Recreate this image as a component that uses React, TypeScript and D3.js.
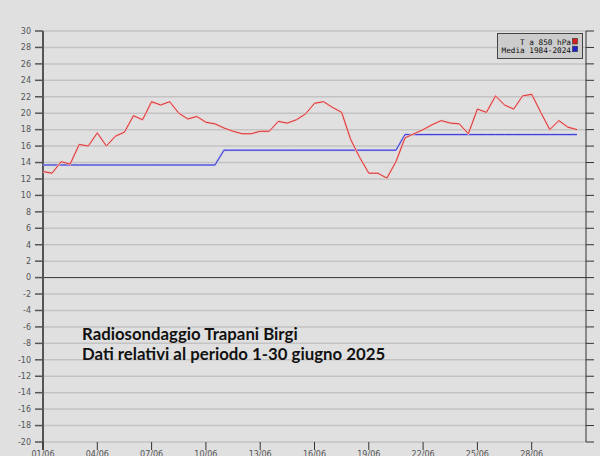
import React from "react";
import * as d3 from "d3";

const W = 600;
const H = 456;

// 850 hPa temperature, Trapani Birgi, June 2025 (00Z and 12Z soundings)
const temp850: number[] = [
  12.9, 12.7, 14.1, 13.8, 16.2, 16.0, 17.6, 16.0, 17.2, 17.7,
  19.7, 19.2, 21.4, 21.0, 21.4, 20.0, 19.3, 19.6, 18.9, 18.7,
  18.2, 17.8, 17.5, 17.5, 17.8, 17.8, 19.0, 18.8, 19.2, 19.9,
  21.2, 21.4, 20.7, 20.1, 16.8, 14.6, 12.7, 12.7, 12.1, 14.1,
  17.0, 17.5, 18.0, 18.6, 19.1, 18.8, 18.7, 17.5, 20.5, 20.1,
  22.1, 21.0, 20.5, 22.1, 22.3, 20.1, 18.0, 19.1, 18.3, 18.0,
];

// 1984-2024 decadal mean
const decadeMeans: number[] = [13.7, 15.5, 17.4];

const yTicks: number[] = d3.range(-20, 31, 2);
const xTickDays: number[] = [1, 4, 7, 10, 13, 16, 19, 22, 25, 28];

const legendLabels: string[] = ["T a 850 hPa", "Media 1984-2024"];
const legendColors: string[] = ["#d42020", "#2020d0"];

const noteLines: string[] = [
  "Radiosondaggio Trapani Birgi",
  "Dati relativi al periodo 1-30 giugno 2025",
];

const start = Date.UTC(2025, 5, 1);
const HOUR = 3600 * 1000;
const dateOf = (i: number) => new Date(start + i * 12 * HOUR);

const meanSeries: number[] = temp850.map((_, i) => decadeMeans[Math.min(2, Math.floor(i / 20))]);

export default function App() {
  const x = d3
    .scaleUtc()
    .domain([new Date(start), new Date(Date.UTC(2025, 6, 1))])
    .range([43, 586]);
  const y = d3.scaleLinear().domain([-20, 30]).range([442, 31]);

  const line = d3
    .line<number>()
    .x((_, i) => x(dateOf(i)))
    .y((d) => y(d));

  const fmt = d3.utcFormat("%d/%m");

  return (
    <svg
      width={W}
      height={H}
      style={{ position: "absolute", left: 0, top: 0 }}
      xmlns="http://www.w3.org/2000/svg"
    >
      <rect x={0} y={0} width={W} height={H} fill="#e0e0e0" />
      {/* grid */}
      {yTicks.map((t) => (
        <line
          key={"g" + t}
          x1={43}
          x2={586}
          y1={y(t)}
          y2={y(t)}
          stroke={t === 0 ? "#333" : "#c3c3c3"}
          strokeWidth={t === 0 ? 1 : 1.5}
        />
      ))}
      {/* left axis */}
      <line x1={43} x2={43} y1={y(30)} y2={450} stroke="#555" strokeWidth={2} />
      {yTicks.map((t) => (
        <g key={"l" + t}>
          <line x1={35} x2={43} y1={y(t)} y2={y(t)} stroke="#555" strokeWidth={1.5} />
          <text
            x={31}
            y={y(t)}
            dy="0.35em"
            textAnchor="end"
            fontFamily="DejaVu Sans"
            fontSize={8}
            fill="#555"
          >
            {t}
          </text>
        </g>
      ))}
      {/* right axis */}
      <line x1={586} x2={586} y1={y(30)} y2={y(-20)} stroke="#333" strokeWidth={1} />
      {yTicks.map((t) => (
        <line key={"r" + t} x1={586} x2={594} y1={y(t)} y2={y(t)} stroke="#333" strokeWidth={1} />
      ))}
      {/* x ticks */}
      {xTickDays.map((d) => {
        const dt = new Date(Date.UTC(2025, 5, d));
        const xx = x(dt);
        return (
          <g key={"x" + d}>
            <line x1={xx} x2={xx} y1={442} y2={450} stroke="#333" strokeWidth={1} />
            <text
              x={xx}
              y={457}
              textAnchor="middle"
              fontFamily="DejaVu Sans"
              fontSize={8}
              fill="#555"
            >
              {fmt(dt)}
            </text>
          </g>
        );
      })}
      {/* series */}
      <path d={line(meanSeries) || ""} fill="none" stroke="#b4b4ee" strokeWidth={2.2} />
      <path d={line(meanSeries) || ""} fill="none" stroke="#3a3ad4" strokeWidth={1} />
      <path d={line(temp850) || ""} fill="none" stroke="#f0c0c0" strokeWidth={2.2} />
      <path d={line(temp850) || ""} fill="none" stroke="#d83434" strokeWidth={1} />
      {/* legend */}
      <rect x={497.5} y={33.5} width={85} height={25} fill="#cccccc" stroke="#444" strokeWidth={1} />
      {legendLabels.map((l, i) => (
        <g key={l}>
          <text
            x={571}
            y={45 + i * 7.7}
            textAnchor="end"
            fontFamily="DejaVu Sans Mono"
            fontSize={7.7}
            fill="#111"
          >
            {l}
          </text>
          <rect
            x={572.5}
            y={38.5 + i * 7.7}
            width={5}
            height={5.5}
            fill={legendColors[i]}
            stroke="#333"
            strokeWidth={0.6}
          />
        </g>
      ))}
      {/* annotation */}
      {noteLines.map((l, i) => (
        <text
          key={l}
          x={82}
          y={340 + i * 20}
          fontFamily="Lato"
          fontWeight="bold"
          fontSize={16.8}
          fill="#111"
        >
          {l}
        </text>
      ))}
    </svg>
  );
}
